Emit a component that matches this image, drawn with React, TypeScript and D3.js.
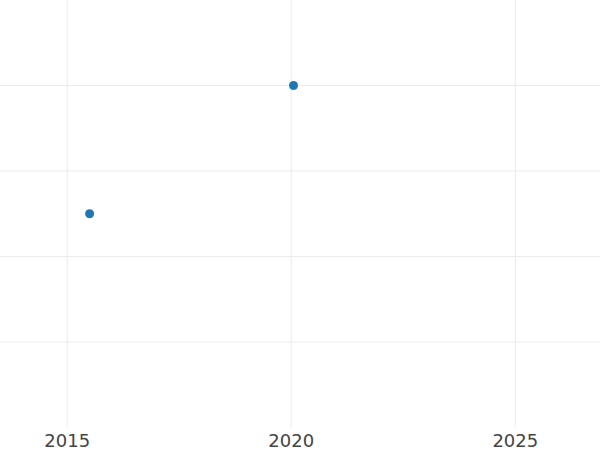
import React from "react";
import * as d3 from "d3";

const xValues = [2015.5, 2020.05];
const yValues = [2.5, 4];
const xTicks = [2015, 2020, 2025];
const yTicks = [1, 2, 3, 4];

export default function App() {
  const W = 600, H = 450;
  const x = d3.scaleLinear().domain([2013.5, 2026.89]).range([0, 600]);
  const y = d3.scaleLinear().domain([0, 5]).range([427.5, 0]);
  return (
    <svg width={W} height={H} style={{ position: "absolute", left: 0, top: 0, background: "#fff" }}>
      {yTicks.map((t) => (
        <line key={"y" + t} x1={0} x2={W} y1={y(t)} y2={y(t)} stroke="#ebebeb" strokeWidth={1} />
      ))}
      {xTicks.map((t) => (
        <line key={"x" + t} x1={x(t)} x2={x(t)} y1={0} y2={y(0)} stroke="#ebebeb" strokeWidth={1} />
      ))}
      {xTicks.map((t) => (
        <text key={"l" + t} x={x(t)} y={447} textAnchor="middle" fontFamily="DejaVu Sans" fontSize={18} fill="#444">
          {d3.format("d")(t)}
        </text>
      ))}
      {xValues.map((v, i) => (
        <circle key={i} cx={x(v)} cy={y(yValues[i])} r={4.5} fill="#1f77b4" />
      ))}
    </svg>
  );
}
